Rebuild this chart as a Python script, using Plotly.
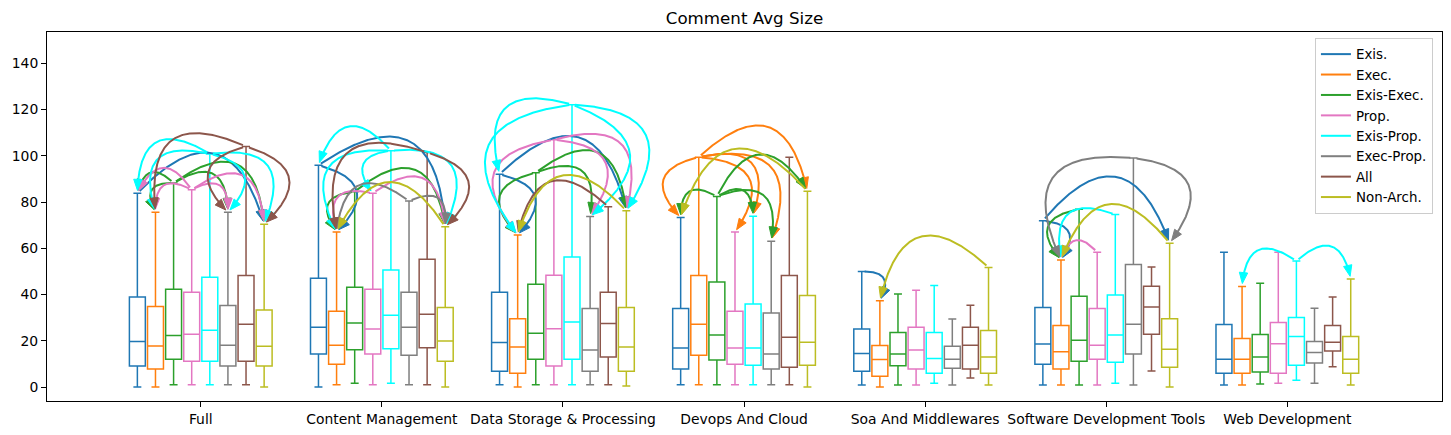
import numpy as np
import plotly.graph_objects as go

categories = ["Full", "Content Management", "Data Storage & Processing", "Devops And Cloud",
              "Soa And Middlewares", "Software Development Tools", "Web Development"]
series = ["Exis.", "Exec.", "Exis-Exec.", "Prop.", "Exis-Prop.", "Exec-Prop.", "All", "Non-Arch."]
colors = ["#1f77b4", "#ff7f0e", "#2ca02c", "#e377c2", "#00ffff", "#7f7f7f", "#8c564b", "#bcbd22"]

# box statistics per series, one value per category
q1 = {
    "Exis.":      [9.1, 14.3, 6.9, 7.8, 6.9, 9.9, 6.0],
    "Exec.":      [7.8, 9.9, 6.0, 13.8, 4.7, 7.8, 6.0],
    "Exis-Exec.": [12.1, 16.1, 12.1, 11.7, 9.2, 11.2, 6.5],
    "Prop.":      [11.2, 14.3, 9.1, 9.9, 7.8, 12.1, 6.0],
    "Exis-Prop.": [11.2, 16.6, 12.1, 9.5, 6.0, 10.8, 9.5],
    "Exec-Prop.": [9.1, 13.8, 6.9, 7.8, 8.2, 14.3, 10.4],
    "All":        [11.2, 17.0, 13.0, 8.6, 7.8, 22.9, 15.6],
    "Non-Arch.":  [9.1, 11.2, 6.9, 9.5, 6.0, 8.6, 6.0],
}
median = {
    "Exis.":      [19.7, 25.9, 19.3, 16.9, 14.5, 18.6, 12.1],
    "Exec.":      [17.8, 18.1, 17.3, 27.2, 11.9, 15.3, 12.1],
    "Exis-Exec.": [22.3, 27.7, 23.3, 22.5, 14.3, 20.3, 13.0],
    "Prop.":      [22.9, 25.1, 25.2, 16.9, 16.0, 18.1, 18.8],
    "Exis-Prop.": [24.6, 31.1, 28.1, 16.9, 12.4, 22.5, 21.9],
    "Exec-Prop.": [18.1, 25.9, 16.0, 14.3, 12.1, 27.2, 15.0],
    "All":        [27.2, 31.5, 27.5, 21.6, 18.1, 34.6, 19.4],
    "Non-Arch.":  [17.7, 19.9, 17.3, 19.4, 13.0, 16.4, 12.1],
}
q3 = {
    "Exis.":      [38.9, 47.1, 41.0, 34.0, 25.1, 34.4, 27.1],
    "Exec.":      [34.8, 32.8, 29.6, 48.2, 18.0, 26.6, 21.0],
    "Exis-Exec.": [42.3, 43.2, 44.5, 45.4, 23.6, 39.3, 22.7],
    "Prop.":      [41.0, 42.3, 48.4, 32.8, 25.9, 34.0, 27.9],
    "Exis-Prop.": [47.5, 50.6, 56.2, 35.9, 23.6, 39.8, 30.1],
    "Exec-Prop.": [35.3, 41.0, 34.0, 32.0, 17.7, 53.0, 19.7],
    "All":        [48.2, 55.3, 41.0, 48.2, 25.9, 43.6, 26.6],
    "Non-Arch.":  [33.3, 34.4, 34.4, 39.6, 24.5, 29.6, 21.9],
}
whisker_low = {
    "Exis.":      [0.1, 0.0, 1.0, 1.0, 0.9, 0.9, 0.9],
    "Exec.":      [0.0, 1.0, 0.0, 1.0, 0.0, 0.9, 0.9],
    "Exis-Exec.": [1.0, 1.7, 1.0, 1.0, 0.9, 0.9, 1.4],
    "Prop.":      [1.0, 1.0, 1.0, 1.0, 0.9, 0.9, 1.7],
    "Exis-Prop.": [1.0, 1.7, 1.0, 1.0, 1.7, 1.7, 3.0],
    "Exec-Prop.": [1.0, 1.0, 1.0, 1.0, 0.9, 0.9, 1.7],
    "All":        [1.0, 1.0, 1.0, 1.0, 3.9, 7.0, 8.8],
    "Non-Arch.":  [0.0, 0.0, 0.5, 0.0, 0.9, 0.0, 0.9],
}
whisker_high = {
    "Exis.":      [83.8, 95.9, 92.0, 73.3, 50.0, 71.9, 58.3],
    "Exec.":      [75.6, 67.1, 65.8, 99.4, 37.3, 55.0, 43.5],
    "Exis-Exec.": [88.2, 84.5, 92.7, 82.4, 40.2, 76.9, 44.9],
    "Prop.":      [85.3, 83.8, 106.9, 67.0, 41.9, 58.3, 58.3],
    "Exis-Prop.": [100.8, 102.2, 122.1, 73.9, 43.9, 74.6, 54.5],
    "Exec-Prop.": [75.6, 80.4, 73.7, 63.1, 29.4, 99.0, 34.1],
    "All":        [104.0, 101.4, 78.0, 99.4, 35.4, 51.9, 38.9],
    "Non-Arch.":  [70.4, 69.3, 76.2, 84.7, 51.7, 62.2, 46.7],
}

# significance arrows: (source series index, target series index) per category
arrows = {
    "Full": [(4, 0), (4, 1), (4, 5), (4, 7), (6, 1), (6, 5), (6, 7), (0, 7),
             (2, 0), (2, 1), (2, 5), (2, 7), (3, 0), (3, 1), (3, 5), (3, 7)],
    "Content Management": [(4, 0), (4, 1), (4, 3), (4, 7), (0, 1), (0, 7), (6, 1), (6, 7),
                           (2, 1), (2, 7), (3, 1), (3, 7), (5, 1), (5, 7), (7, 1)],
    "Data Storage & Processing": [(4, 0), (4, 1), (4, 5), (4, 7), (3, 1), (3, 5), (3, 7),
                                  (0, 1), (0, 7), (2, 1), (2, 5), (2, 7), (6, 1), (7, 1)],
    "Devops And Cloud": [(1, 0), (1, 3), (1, 4), (1, 5), (1, 7), (2, 0), (2, 4), (2, 5),
                         (2, 7), (7, 0)],
    "Soa And Middlewares": [(0, 1), (7, 1)],
    "Software Development Tools": [(5, 1), (5, 7), (0, 1), (0, 7), (2, 1), (4, 1), (3, 1), (7, 1)],
    "Web Development": [(4, 1), (4, 7)],
}

# ---------------- layout constants ----------------
PAGE_OFFSET = 8  # default body margin of the html page
FIG_W, FIG_H = 1451 - PAGE_OFFSET, 435 - PAGE_OFFSET
MARGIN = dict(l=47 - PAGE_OFFSET, r=9, t=32 - PAGE_OFFSET, b=34)
PW = FIG_W - MARGIN["l"] - MARGIN["r"]
PH = FIG_H - MARGIN["t"] - MARGIN["b"]
XR = [-0.849, 6.854]
YR = [-6.0, 153.5]
SPACING = 0.1
BOX_W = 0.088
RAD = 0.87
HEAD_L = 11.0
HEAD_HW = 4.2
SHRINK = 2.8
FONT = "DejaVu Sans"


def pos(ci, si):
    return ci + (si - (len(series) - 1) / 2) * SPACING


def to_px(x, y):
    return np.array([(x - XR[0]) / (XR[1] - XR[0]) * PW, (y - YR[0]) / (YR[1] - YR[0]) * PH])


def to_data(p):
    return (XR[0] + p[0] / PW * (XR[1] - XR[0]), YR[0] + p[1] / PH * (YR[1] - YR[0]))


def arrow_geom(x1, y1, x2, y2):
    p1, p2 = to_px(x1, y1), to_px(x2, y2)
    d = p2 - p1
    f = RAD if d[0] < 0 else -RAD
    mid = (p1 + p2) / 2
    c = np.array([mid[0] + f * d[1], mid[1] - f * d[0]])
    t = np.linspace(0, 1, 400)[:, None]
    pts = (1 - t) ** 2 * p1 + 2 * t * (1 - t) * c + t ** 2 * p2
    der = 2 * (1 - t) * (c - p1) + 2 * t * (p2 - c)
    keep = (np.linalg.norm(pts - p1, axis=1) >= SHRINK) & (np.linalg.norm(pts - p2, axis=1) >= SHRINK)
    idx = np.where(keep)[0]
    pts, der = pts[idx], der[idx]
    tip = pts[-1]
    u = der[-1] / np.linalg.norm(der[-1])
    n = np.array([-u[1], u[0]])
    base = tip - HEAD_L * u
    seg = np.linalg.norm(np.diff(pts, axis=0), axis=1)
    from_end = np.concatenate([np.cumsum(seg[::-1])[::-1], [0.0]])
    line = pts[from_end >= HEAD_L * 0.85]
    line = np.vstack([line, base + 0.5 * u])
    head = np.array([tip, base + HEAD_HW * n, base - HEAD_HW * n, tip])
    return [to_data(p) for p in line], [to_data(p) for p in head]


fig = go.Figure()

for si, name in enumerate(series):
    fig.add_trace(go.Box(
        x=[pos(ci, si) for ci in range(len(categories))],
        q1=q1[name], median=median[name], q3=q3[name],
        lowerfence=whisker_low[name], upperfence=whisker_high[name],
        width=BOX_W, whiskerwidth=0.5, boxpoints=False,
        line=dict(color=colors[si], width=1.5), fillcolor="rgba(0,0,0,0)",
        name=name, showlegend=False, hoverinfo="skip",
    ))

# arrows grouped by colour
lines_by = {i: ([], []) for i in range(len(series))}
heads_by = {i: ([], []) for i in range(len(series))}
for ci, cat in enumerate(categories):
    for (s, d) in arrows[cat]:
        x1, y1 = pos(ci, s), whisker_high[series[s]][ci]
        x2, y2 = pos(ci, d), whisker_high[series[d]][ci]
        line, head = arrow_geom(x1, y1, x2, y2)
        lx, ly = lines_by[s]
        lx.extend([p[0] for p in line] + [None])
        ly.extend([p[1] for p in line] + [None])
        hx, hy = heads_by[s]
        hx.extend([p[0] for p in head] + [None])
        hy.extend([p[1] for p in head] + [None])

for si in range(len(series)):
    lx, ly = lines_by[si]
    if lx:
        fig.add_trace(go.Scatter(x=lx, y=ly, mode="lines", line=dict(color=colors[si], width=2),
                                 showlegend=False, hoverinfo="skip"))
        hx, hy = heads_by[si]
        fig.add_trace(go.Scatter(x=hx, y=hy, mode="lines", fill="toself", fillcolor=colors[si],
                                 line=dict(color=colors[si], width=1),
                                 showlegend=False, hoverinfo="skip"))

# legend entries as line handles
for si, name in enumerate(series):
    fig.add_trace(go.Scatter(x=[None], y=[None], mode="lines", name=name,
                             line=dict(color=colors[si], width=2), legendgroup=name))

fig.update_layout(
    width=FIG_W, height=FIG_H, margin=MARGIN,
    plot_bgcolor="white", paper_bgcolor="white",
    font=dict(family=FONT, size=13, color="black"),
    title=dict(text="Comment Avg Size", x=0.5, xref="paper", xanchor="center",
               y=1 - (18 - PAGE_OFFSET) / FIG_H, yanchor="middle",
               font=dict(size=16.7, family=FONT, color="black")),
    boxmode="overlay",
    legend=dict(x=0.9935, y=0.984, xanchor="right", yanchor="top", bgcolor="white",
                bordercolor="#cccccc", borderwidth=1, font=dict(size=13.4, family=FONT),
                tracegroupgap=0, itemwidth=30),
    xaxis=dict(range=XR, tickvals=list(range(len(categories))), ticktext=categories,
               showgrid=False, zeroline=False, showline=True, mirror=True, linecolor="black",
               linewidth=1, ticks="outside", ticklen=5, tickcolor="black", tickangle=0,
               automargin=False, tickfont=dict(size=13.9, family=FONT)),
    yaxis=dict(range=YR, tickvals=list(range(0, 141, 20)), showgrid=False, zeroline=False,
               showline=True, mirror=True, linecolor="black", linewidth=1, ticks="outside",
               ticklen=5, tickcolor="black", automargin=False,
               tickfont=dict(size=13.9, family=FONT)),
)

fig.write_html("out.html")
